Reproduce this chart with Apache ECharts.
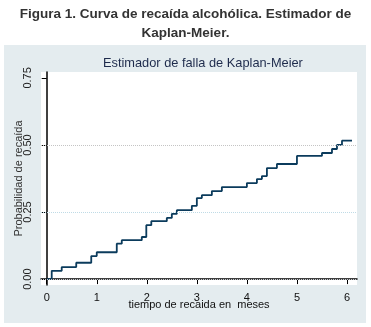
<!DOCTYPE html>
<html>
<head>
<meta charset="utf-8">
<script src="https://cdn.jsdelivr.net/npm/echarts@6/dist/echarts.min.js"></script>
<style>
  html, body { margin: 0; padding: 0; background: #ffffff; }
  #chart { width: 371px; height: 327px; }
</style>
</head>
<body>
<div id="chart"></div>
<script>
// tiempo (meses) en que ocurre cada recaida, y probabilidad acumulada despues del salto
var times = [0, 0.1, 0.3, 0.59, 0.89, 1.0, 1.4, 1.5, 1.9, 1.99, 2.09, 2.4, 2.5, 2.6, 2.9, 3.0, 3.1, 3.3, 3.5, 4.0, 4.2, 4.3, 4.4, 4.6, 5.0, 5.5, 5.7, 5.8, 5.9, 6.1]
var failure = [0, 0.031, 0.045, 0.061, 0.086, 0.100, 0.132, 0.145, 0.157, 0.201, 0.216, 0.228, 0.243, 0.257, 0.273, 0.302, 0.313, 0.328, 0.343, 0.358, 0.373, 0.384, 0.414, 0.429, 0.459, 0.470, 0.485, 0.500, 0.516, 0.516]
var xTicks = [0, 1, 2, 3, 4, 5, 6]
var yTicks = [0, 0.25, 0.5, 0.75]
var gridLevels = [0, 0.25, 0.5]

var chart = echarts.init(document.getElementById('chart'))

var points = []
for (var i = 0; i < times.length; i++) {
  points.push([times[i], failure[i]])
}

var gridColors = ['#c4c8cc', '#bfdbe6', '#c4c4c4']
var markData = []
for (var j = 0; j < gridLevels.length; j++) {
  markData.push({ yAxis: gridLevels[j], lineStyle: { color: gridColors[j] } })
}

var option = {
  animation: false,
  backgroundColor: '#ffffff',
  graphic: [{
    type: 'rect',
    z: -10,
    shape: { x: 4, y: 45, width: 362, height: 278 },
    style: { fill: '#e4ecef' }
  }],
  title: [{
    text: 'Figura 1. Curva de recaída alcohólica. Estimador de\nKaplan-Meier.',
    left: 'center',
    top: 0,
    textStyle: {
      fontFamily: 'Liberation Sans',
      fontSize: 13.5,
      fontWeight: 'bold',
      color: '#333333',
      lineHeight: 19,
      align: 'center'
    }
  }, {
    text: 'Estimador de falla de Kaplan-Meier',
    left: 98,
    top: 52,
    textStyle: {
      fontFamily: 'Liberation Sans',
      fontSize: 12.8,
      fontWeight: 'normal',
      color: '#1e2b4c'
    }
  }],
  grid: {
    left: 41,
    right: 14,
    top: 72,
    bottom: 42,
    show: true,
    backgroundColor: '#ffffff',
    borderWidth: 0
  },
  xAxis: {
    type: 'value',
    min: -0.114,
    max: 6.2,
    name: 'tiempo de recaida en  meses',
    nameLocation: 'middle',
    nameGap: 14,
    nameMoveOverlap: false,
    nameTextStyle: { fontFamily: 'Liberation Sans', fontSize: 11, color: '#111111' },
    axisLine: { lineStyle: { color: '#000000', width: 1.5 } },
    axisTick: { show: true, customValues: xTicks, length: 5, lineStyle: { color: '#000000' } },
    axisLabel: {
      customValues: xTicks,
      margin: 7,
      fontFamily: 'Liberation Sans',
      fontSize: 11,
      color: '#111111'
    },
    splitLine: { show: false }
  },
  yAxis: {
    type: 'value',
    min: -0.022,
    max: 0.772,
    name: 'Probabilidad de recaída',
    nameLocation: 'middle',
    nameGap: 17,
    nameMoveOverlap: false,
    nameTextStyle: { fontFamily: 'Liberation Sans', fontSize: 11, color: '#333333' },
    axisLine: { show: true, lineStyle: { color: '#000000', width: 1.5 } },
    axisTick: { show: true, customValues: yTicks, length: 5, lineStyle: { color: '#000000' } },
    axisLabel: {
      customValues: yTicks,
      rotate: 90,
      margin: 8,
      fontFamily: 'Liberation Sans',
      fontSize: 11,
      color: '#222222',
      formatter: function (v) { return v.toFixed(2) }
    },
    splitLine: { show: false }
  },
  series: [{
    type: 'line',
    step: 'end',
    data: points,
    symbol: 'none',
    lineStyle: { color: '#0b3b5c', width: 1.8 },
    markLine: {
      silent: true,
      symbol: 'none',
      label: { show: false },
      lineStyle: { type: 'dotted', width: 1 },
      data: markData
    }
  }]
}

chart.setOption(option)
</script>
</body>
</html>
